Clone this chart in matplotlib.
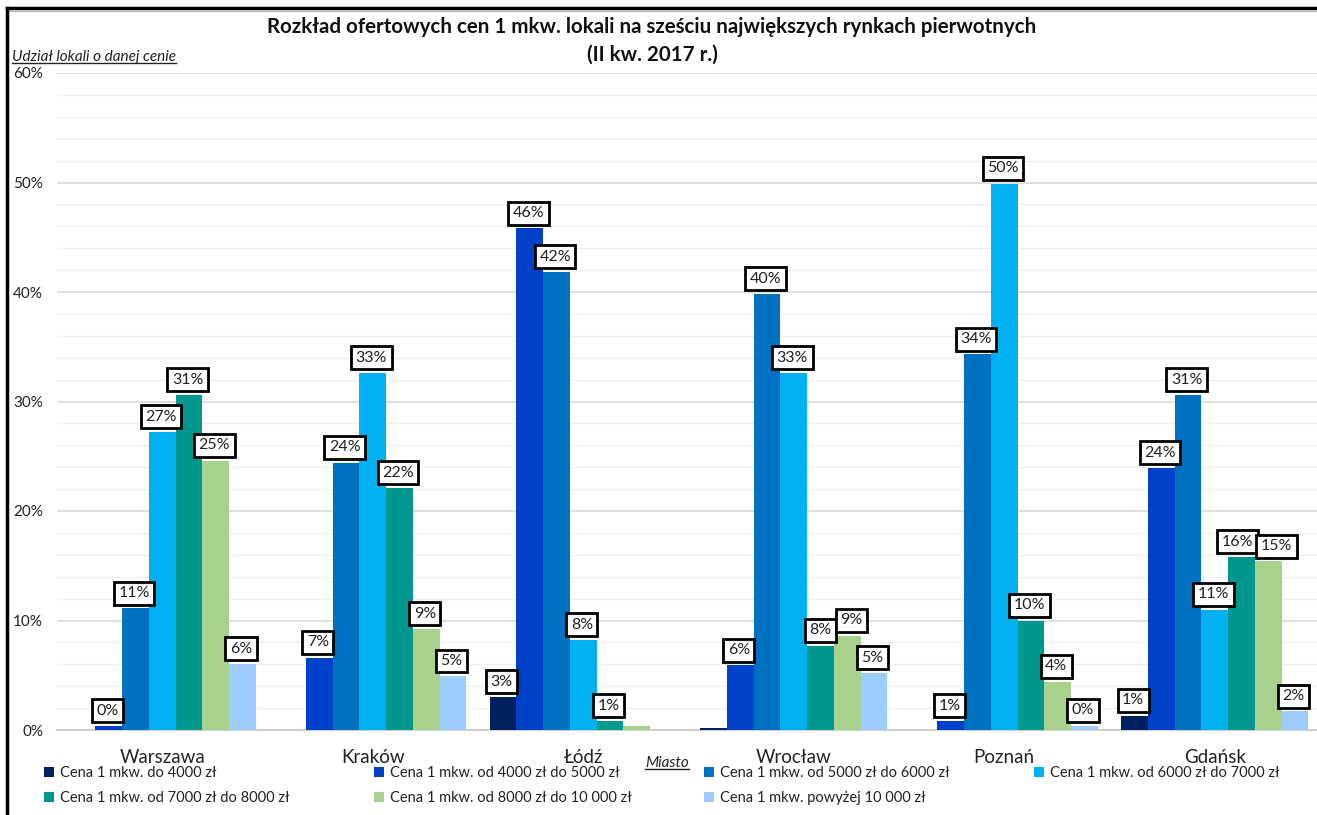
import numpy as np
import matplotlib.pyplot as plt
from matplotlib.lines import Line2D

plt.rcParams['font.family'] = ['Lato', 'DejaVu Sans']

miasta = ['Warszawa', 'Kraków', 'Łódź', 'Wrocław', 'Poznań', 'Gdańsk']

serie = [
    'Cena 1 mkw. do 4000 zł',
    'Cena 1 mkw. od 4000 zł do 5000 zł',
    'Cena 1 mkw. od 5000 zł do 6000 zł',
    'Cena 1 mkw. od 6000 zł do 7000 zł',
    'Cena 1 mkw. od 7000 zł do 8000 zł',
    'Cena 1 mkw. od 8000 zł do 10 000 zł',
    'Cena 1 mkw. powyżej 10 000 zł',
]

# udział lokali w % (wiersz = przedział cenowy, kolumna = miasto)
do_4000 = [0.0, 0.0, 3.0, 0.15, 0.0, 1.3]
od_4000_5000 = [0.35, 6.6, 45.8, 5.9, 0.8, 23.9]
od_5000_6000 = [11.1, 24.4, 41.8, 39.8, 34.3, 30.6]
od_6000_7000 = [27.2, 32.6, 8.2, 32.6, 49.9, 11.0]
od_7000_8000 = [30.6, 22.1, 0.8, 7.7, 10.0, 15.8]
od_8000_10000 = [24.6, 9.2, 0.4, 8.6, 4.4, 15.4]
pow_10000 = [6.0, 4.9, 0.0, 5.2, 0.4, 1.7]

# które słupki mają etykietę z wartością
etykiety = [
    [0, 0, 1, 0, 0, 1],
    [1, 1, 1, 1, 1, 1],
    [1, 1, 1, 1, 1, 1],
    [1, 1, 1, 1, 1, 1],
    [1, 1, 1, 1, 1, 1],
    [1, 1, 0, 1, 1, 1],
    [1, 1, 0, 1, 1, 1],
]

kolory = ['#002060', '#0041C9', '#0070C0', '#00B0F0', '#00978F', '#A9D18E', '#9DCCFF']

dane = [do_4000, od_4000_5000, od_5000_6000, od_6000_7000,
        od_7000_8000, od_8000_10000, pow_10000]

# przesunięcia etykiet w poziomie (pkt), żeby sąsiednie się nie nachodziły
przesun = {(4, 3): 1, (5, 3): 4, (4, 5): -2, (5, 5): 7}

fig = plt.figure(figsize=(13.17, 8.15), dpi=100)
W, H = 1317, 815
ax = fig.add_axes([57 / W, 85 / H, (W - 57) / W, 657 / H])

x = np.arange(len(miasta))
n = len(dane)
szer = 0.127
slupki = []
for i, wart in enumerate(dane):
    pos = x + (i - (n - 1) / 2) * szer
    b = ax.bar(pos, wart, width=szer, color=kolory[i], label=serie[i], zorder=3)
    slupki.append(b)
    for j, v in enumerate(wart):
        if etykiety[i][j]:
            dx = przesun.get((i, j), 0) - 1
            ax.annotate(f'{int(v + 0.5)}%', (pos[j], v), xytext=(dx, 6),
                        textcoords='offset points', ha='center', va='bottom',
                        fontsize=11.5, color='#202020', zorder=5,
                        bbox=dict(boxstyle='square,pad=0.28', fc='white',
                                  ec='black', lw=2))

ax.set_xlim(-0.5, -0.5 + (W - 57) / 210.5)
ax.set_ylim(0, 60)
ax.set_yticks(np.arange(0, 61, 10))
ax.set_yticklabels([f'{t}%' for t in range(0, 61, 10)], fontsize=11, color='#222222')
ax.set_yticks(np.arange(0, 61, 2), minor=True)
ax.grid(axis='y', which='major', color='#d9d9d9', lw=1.2, zorder=0)
ax.grid(axis='y', which='minor', color='#f0f0f0', lw=1.0, zorder=0)
ax.tick_params(axis='y', which='both', length=0, pad=10)
ax.set_xticks(x)
ax.set_xticklabels(miasta, fontsize=13.5, color='#222222')
ax.tick_params(axis='x', length=0, pad=14)
for s in ['top', 'right', 'left']:
    ax.spines[s].set_visible(False)
ax.spines['bottom'].set_color('#d0d0d0')
ax.spines['bottom'].set_linewidth(1.5)

# tytuł
fig.text(652 / W, 1 - 27 / H, 'Rozkład ofertowych cen 1 mkw. lokali na sześciu największych rynkach pierwotnych',
         ha='center', va='center', fontsize=14.8, fontweight='bold', color='#111111')
fig.text(652 / W, 1 - 55 / H, '(II kw. 2017 r.)', ha='center', va='center',
         fontsize=14.8, fontweight='bold', color='#111111')

opis_y = fig.text(12 / W, 1 - 57 / H, 'Udział lokali o danej cenie', ha='left', va='center',
                  fontsize=11, style='italic', color='#222222')
opis_x = fig.text(667 / W, 1 - 763 / H, 'Miasto', ha='center', va='center',
                  fontsize=11, style='italic', color='#222222')

# legenda w czterech kolumnach
kol_x = [44, 374, 704, 1034]
kolumny = [[0, 4], [1, 5], [2, 6], [3]]
for kx, idx in zip(kol_x, kolumny):
    leg = fig.legend([slupki[k] for k in idx], [serie[k] for k in idx],
                     loc='upper left', bbox_to_anchor=(kx / W, 1 - 766 / H),
                     frameon=False, fontsize=10.5, handlelength=0.7, handleheight=0.7,
                     handletextpad=0.4, labelspacing=0.75, borderpad=0, borderaxespad=0)
    for t in leg.get_texts():
        t.set_color('#222222')

# ramka
fig.add_artist(Line2D([7 / W, 1], [1 - 8 / H, 1 - 8 / H], color='black', lw=2.5))
fig.add_artist(Line2D([7 / W, 1], [1 - 11 / H, 1 - 11 / H], color='#bbbbbb', lw=1))
fig.add_artist(Line2D([7 / W, 7 / W], [0, 1 - 8 / H], color='black', lw=2.5))

# podkreślenia
fig.canvas.draw()
r = fig.canvas.get_renderer()
for t in (opis_y, opis_x):
    bb = t.get_window_extent(r).transformed(fig.transFigure.inverted())
    fig.add_artist(Line2D([bb.x0, bb.x1], [bb.y0 + 0.001, bb.y0 + 0.001], color='#222222', lw=1))

fig.savefig('out.png', dpi=100)
